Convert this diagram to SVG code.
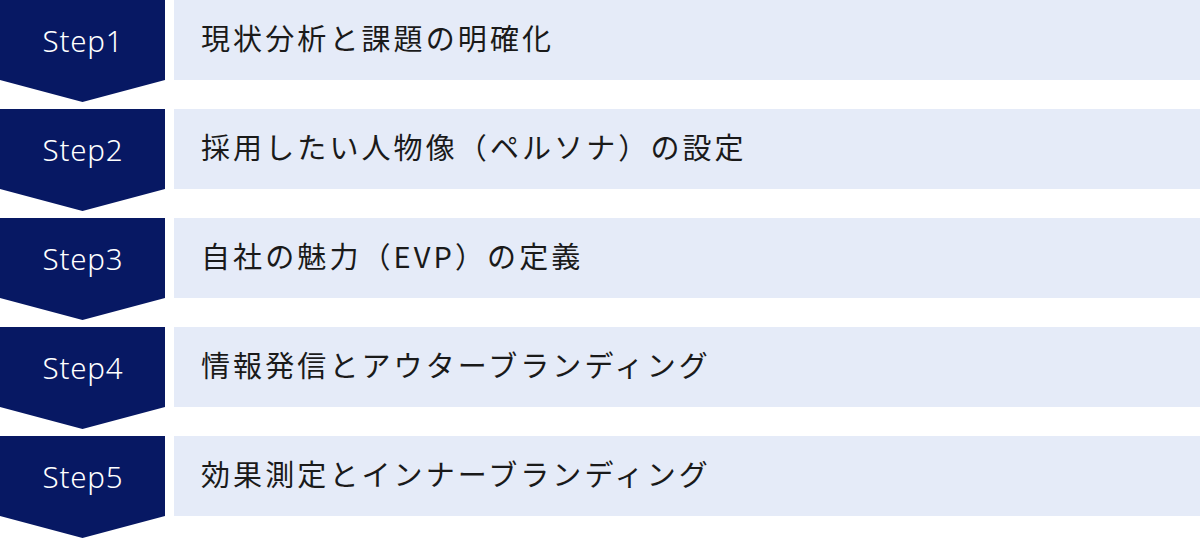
<svg xmlns="http://www.w3.org/2000/svg" width="1200" height="538" viewBox="0 0 1200 538">
<style>
.chev{fill:#071863}
.bar{fill:#e5ebf8}
.step{fill:#ffffff;font-family:"Noto Sans",sans-serif;font-weight:300;font-size:29.5px;letter-spacing:0.8px;text-anchor:middle}
.lbl{fill:#1a1a1a;font-family:"Noto Sans CJK JP",sans-serif;font-weight:400;font-size:29px;letter-spacing:3.1px}
</style>
<defs>
<path id="chevron" d="M0,0 H165 V80 L82.5,102 L0,80 Z"/>
</defs>
<g id="connectors"></g>
<g id="step1" transform="translate(0,0)">
<use href="#chevron" class="chev"/>
<rect class="bar" x="174" y="0" width="1026" height="80"/>
<text class="step" x="83" y="52">Step1</text>
<text class="lbl" x="201" y="50">現状分析と課題の明確化</text>
</g>
<g id="step2" transform="translate(0,109)">
<use href="#chevron" class="chev"/>
<rect class="bar" x="174" y="0" width="1026" height="80"/>
<text class="step" x="83" y="52">Step2</text>
<text class="lbl" x="201" y="50">採用したい人物像（ペルソナ）の設定</text>
</g>
<g id="step3" transform="translate(0,218)">
<use href="#chevron" class="chev"/>
<rect class="bar" x="174" y="0" width="1026" height="80"/>
<text class="step" x="83" y="52">Step3</text>
<text class="lbl" x="201" y="50">自社の魅力（EVP）の定義</text>
</g>
<g id="step4" transform="translate(0,327)">
<use href="#chevron" class="chev"/>
<rect class="bar" x="174" y="0" width="1026" height="80"/>
<text class="step" x="83" y="52">Step4</text>
<text class="lbl" x="201" y="50">情報発信とアウターブランディング</text>
</g>
<g id="step5" transform="translate(0,436)">
<use href="#chevron" class="chev"/>
<rect class="bar" x="174" y="0" width="1026" height="80"/>
<text class="step" x="83" y="52">Step5</text>
<text class="lbl" x="201" y="50">効果測定とインナーブランディング</text>
</g>
</svg>
